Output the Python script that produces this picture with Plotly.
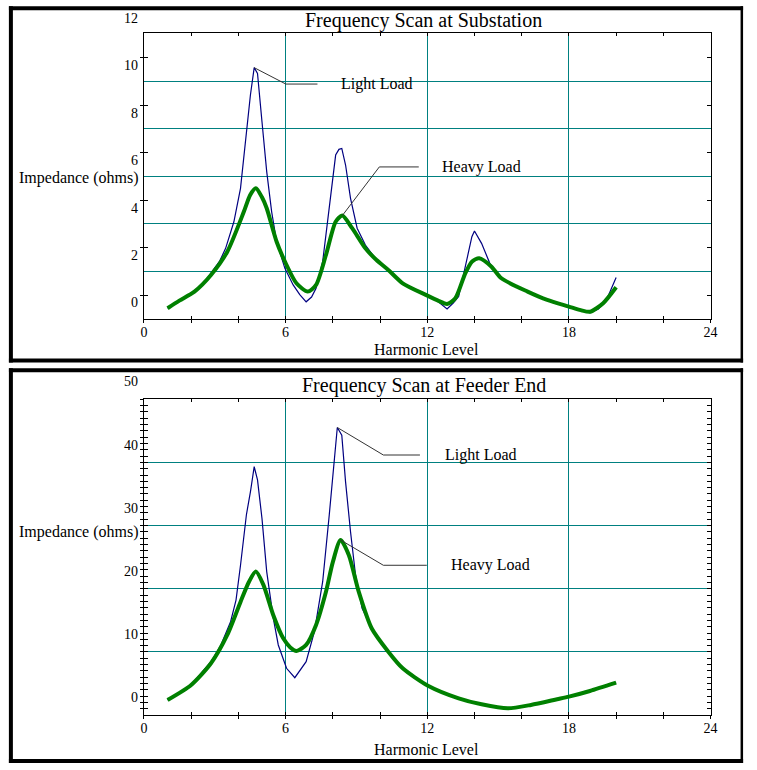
import numpy as np
import plotly.graph_objects as go

# ---- data ----
# Top: Frequency Scan at Substation
harm_sub_light = [1.0, 1.5, 2.0, 2.5, 2.84, 3.2, 3.46, 3.81, 4.09, 4.30, 4.51, 4.67, 4.81,
                  5.0, 5.2, 5.41, 5.62, 5.97, 6.32, 6.6, 6.87, 7.1, 7.29, 7.57, 7.85, 8.12,
                  8.26, 8.38, 8.54, 8.75, 9.03, 9.38, 9.8, 10.35, 10.96, 11.5, 11.94, 12.4,
                  12.84, 13.1, 13.33, 13.61, 13.89, 14.0, 14.3, 14.65, 15.14, 15.7, 16.25,
                  17.08, 18.0, 18.5, 18.89, 19.25, 19.59, 20.0]
z_sub_light = [-0.22, 0.10, 0.40, 0.80, 1.25, 1.75, 2.30, 3.42, 4.83, 6.79, 8.76, 9.91, 9.67,
               7.63, 5.53, 3.84, 2.58, 1.46, 0.76, 0.35, 0.05, 0.25, 0.62, 1.74, 4.13, 6.23,
               6.47, 6.51, 5.81, 4.41, 3.15, 2.44, 1.88, 1.39, 0.83, 0.58, 0.34, 0.10,
               -0.25, 0.0, 0.27, 1.53, 2.79, 3.03, 2.51, 1.67, 1.04, 0.75, 0.48,
               0.13, -0.15, -0.30, -0.42, -0.25, 0.13, 1.07]

harm_sub_heavy = [1.0, 1.5, 2.14, 2.84, 3.53, 4.23, 4.5, 4.74, 5.0, 5.2, 5.62, 6.04, 6.46,
                  6.94, 7.29, 7.71, 8.12, 8.4, 8.82, 9.38, 9.85, 10.35, 10.96, 11.94, 12.5,
                  12.84, 13.19, 13.61, 13.9, 14.2, 14.72, 15.14, 16.25, 17.08, 18.0, 18.5,
                  18.89, 19.45, 20.0]
z_sub_heavy = [-0.22, 0.10, 0.48, 1.18, 2.16, 3.84, 4.55, 4.83, 4.45, 3.99, 2.58, 1.60, 0.83,
               0.48, 0.76, 2.02, 3.42, 3.68, 3.15, 2.30, 1.81, 1.39, 0.83, 0.34, 0.08,
               -0.04, 0.20, 1.25, 1.75, 1.88, 1.53, 1.04, 0.48, 0.13, -0.15, -0.30,
               -0.37, -0.01, 0.66]

# Bottom: Frequency Scan at Feeder End
harm_fdr_light = [1.0, 2.0, 2.84, 3.26, 3.67, 3.9, 4.09, 4.34, 4.51, 4.67, 4.81, 5.0, 5.2,
                  5.48, 5.69, 6.04, 6.39, 6.87, 7.22, 7.57, 7.85, 8.06, 8.19, 8.38, 8.54,
                  8.75, 8.96, 9.24, 9.65, 10.35, 10.96, 12.03, 13.33, 14.3, 15.41, 16.39,
                  17.5, 18.0, 18.89, 20.0]
z_fdr_light = [-0.32, 2.06, 5.74, 8.39, 12.07, 15.5, 21.0, 29.0, 32.6, 36.6, 34.5, 28.4, 20.0,
               12.6, 8.39, 4.7, 3.21, 5.74, 10.5, 18.4, 29.0, 37.9, 42.8, 41.6, 34.2,
               26.3, 19.5, 14.2, 11.0, 7.33, 4.7, 1.95, -0.05, -1.0, -1.63, -1.1,
               -0.2, 0.21, 1.11, 2.42]

harm_fdr_heavy = [1.0, 2.0, 2.84, 3.53, 4.09, 4.45, 4.74, 5.06, 5.48, 5.9, 6.2, 6.46, 6.87,
                  7.29, 7.71, 8.0, 8.33, 8.68, 9.1, 9.65, 10.35, 10.96, 12.03, 13.33, 14.3,
                  15.41, 16.39, 17.5, 18.0, 18.89, 20.0]
z_fdr_heavy = [-0.32, 2.06, 5.49, 9.97, 15.2, 18.4, 20.0, 17.9, 13.1, 9.44, 8.0, 7.44, 8.39,
               11.55, 16.8, 21.5, 25.0, 22.6, 16.8, 11.0, 7.33, 4.7, 1.95, -0.05, -1.0,
               -1.63, -1.1, -0.2, 0.21, 1.11, 2.42]

x_tick_vals = [0, 6, 12, 18, 24]
y_labels_sub = [0, 2, 4, 6, 8, 10, 12]
y_labels_fdr = [0, 10, 20, 30, 40, 50]

# ---- page geometry (pixels -> paper) ----
W, H = 757, 770


def px(x):
    return x / W


def py(y):
    return 1 - y / H


FONT = "Liberation Serif, Times New Roman, serif"
GRID = "#008080"
NAVY = "#000080"
GREEN = "#008000"

x_dom = [px(142), px(717)]
top_dom = [py(319), py(33)]
bot_dom = [py(715), py(399)]

# the gridlines / tick marks sit a little off the printed labels in the original
sub_range = [-0.674, 11.37]
sub_ticks = list(np.arange(0, 11, 2) + 0.33)
sub_grid = list(np.arange(1, 10, 2) + 0.33)
fdr_range = [-2.69, 47.31]
fdr_ticks = list(np.arange(-2, 48) + 0.28)
fdr_grid = list(np.arange(7, 38, 10) + 0.28)

minor_x = [v for v in range(0, 25, 2) if v % 6 != 0]
all_x = list(range(0, 25, 2))
x_text = [str(v) if v % 6 == 0 else "" for v in all_x]

fig = go.Figure()

# light load (thin navy) under heavy load (thick green)
fig.add_trace(go.Scatter(x=harm_sub_light, y=z_sub_light, mode="lines",
                         line=dict(color=NAVY, width=1.2), xaxis="x", yaxis="y"))
fig.add_trace(go.Scatter(x=harm_sub_heavy, y=z_sub_heavy, mode="lines",
                         line=dict(color=GREEN, width=4, shape="spline", smoothing=0.7),
                         xaxis="x", yaxis="y"))
fig.add_trace(go.Scatter(x=harm_fdr_light, y=z_fdr_light, mode="lines",
                         line=dict(color=NAVY, width=1.2), xaxis="x2", yaxis="y2"))
fig.add_trace(go.Scatter(x=harm_fdr_heavy, y=z_fdr_heavy, mode="lines",
                         line=dict(color=GREEN, width=4, shape="spline", smoothing=0.7),
                         xaxis="x2", yaxis="y2"))
# empty traces so the overlay axes (outer tick halves) get drawn
fig.add_trace(go.Scatter(x=[None], y=[None], xaxis="x3", yaxis="y3"))
fig.add_trace(go.Scatter(x=[None], y=[None], xaxis="x4", yaxis="y4"))


def main_x(anchor):
    return dict(domain=x_dom, anchor=anchor, range=[0, 24], tickmode="array",
                tickvals=x_tick_vals, showticklabels=False, ticks="inside", ticklen=3,
                tickcolor="black", showgrid=True, gridcolor=GRID, gridwidth=1,
                zeroline=False, showline=True, linecolor="black", linewidth=1,
                mirror="ticks",
                minor=dict(tickmode="array", tickvals=minor_x, ticks="inside",
                           ticklen=3, tickcolor="black", showgrid=False))


def outer_x(over, anchor):
    return dict(overlaying=over, anchor=anchor, range=[0, 24], tickmode="array",
                tickvals=all_x, ticktext=x_text, ticks="outside", ticklen=3,
                tickcolor="black", showgrid=False, zeroline=False, showline=False,
                ticklabelstandoff=-3,
                tickfont=dict(family=FONT, size=14, color="black"))


def main_y(dom, anchor, rng, grid, ticks, grid_ticks):
    return dict(domain=dom, anchor=anchor, range=rng, tickmode="array", tickvals=grid,
                showticklabels=False, ticks="inside" if grid_ticks else "", ticklen=4,
                tickcolor="black", showgrid=True, gridcolor=GRID, gridwidth=1,
                zeroline=False, showline=True, linecolor="black", linewidth=1,
                mirror="ticks",
                minor=dict(tickmode="array", tickvals=ticks, ticks="inside", ticklen=4,
                           tickcolor="black", showgrid=False))


def outer_y(over, anchor, rng, ticks):
    return dict(overlaying=over, anchor=anchor, range=rng, tickmode="array",
                tickvals=ticks, showticklabels=False, ticks="outside", ticklen=3,
                tickcolor="black", showgrid=False, zeroline=False, showline=False)


fig.update_layout(
    xaxis=main_x("y"),
    yaxis=main_y(top_dom, "x", sub_range, sub_grid, sub_ticks, False),
    xaxis2=main_x("y2"),
    yaxis2=main_y(bot_dom, "x2", fdr_range, fdr_grid, fdr_ticks, True),
    xaxis3=outer_x("x", "y3"),
    yaxis3=outer_y("y", "x3", sub_range, sub_ticks),
    xaxis4=outer_x("x2", "y4"),
    yaxis4=outer_y("y2", "x4", fdr_range, fdr_ticks),
)

ann = []
# y tick labels printed beside the axis ("12" and "50" sit above the plot frame)
for vals, rng, ref in [(y_labels_sub, sub_range, "y domain"), (y_labels_fdr, fdr_range, "y2 domain")]:
    for v in vals:
        ann.append(dict(x=px(138), xref="paper", y=(v - rng[0]) / (rng[1] - rng[0]), yref=ref,
                        text=str(v), showarrow=False, xanchor="right", yanchor="middle",
                        font=dict(size=14)))

for top, title, ylab, xlab in [(True, "Frequency Scan at Substation", 178, 349),
                               (False, "Frequency Scan at Feeder End", 532, 749)]:
    ty = 21 if top else 385
    ann.append(dict(x=px(426), y=py(ty), xref="paper", yref="paper", text=title,
                    showarrow=False, xanchor="center", yanchor="middle",
                    font=dict(size=20)))
    ann.append(dict(x=px(139), y=py(ylab), xref="paper", yref="paper",
                    text="Impedance (ohms)", showarrow=False, xanchor="right",
                    yanchor="middle", font=dict(size=16)))
    ann.append(dict(x=px(429), y=py(xlab), xref="paper", yref="paper",
                    text="Harmonic Level", showarrow=False, xanchor="center",
                    yanchor="middle", font=dict(size=16)))


def peak(xs, ys, lo, hi):
    best = None
    for x, y in zip(xs, ys):
        if lo <= x <= hi and (best is None or y > best[1]):
            best = (x, y)
    return best


# callouts: (series, peak window, elbow, end of leader, text x, label, axes)
callouts = [
    (harm_sub_light, z_sub_light, (3, 6), (6.01, 9.22), 7.35, 8.25, "Light Load", "x", "y"),
    (harm_sub_heavy, z_sub_heavy, (7, 10), (9.97, 5.73), 11.64, 12.55, "Heavy Load", "x", "y"),
    (harm_fdr_light, z_fdr_light, (7, 10), (10.14, 38.45), 11.69, 12.65, "Light Load", "x2", "y2"),
    (harm_fdr_heavy, z_fdr_heavy, (7, 10), (10.14, 21.0), 11.98, 12.9, "Heavy Load", "x2", "y2"),
]
shapes = []
for xs, ys, win, elbow, xend, tx, label, xr, yr in callouts:
    x0, y0 = peak(xs, ys, *win)
    shapes.append(dict(type="path", xref=xr, yref=yr,
                       path=f"M {x0},{y0} L {elbow[0]},{elbow[1]} L {xend},{elbow[1]}",
                       line=dict(color="#333333", width=1)))
    ann.append(dict(x=tx, y=elbow[1], xref=xr, yref=yr, text=label, showarrow=False,
                    xanchor="left", yanchor="middle", font=dict(size=16)))

# heavy black frames round each panel
for top_y, bot_y in [(8.3, 360.5), (370.3, 761)]:
    shapes.append(dict(type="line", xref="paper", yref="paper", x0=px(5), x1=px(750),
                       y0=py(top_y), y1=py(top_y), line=dict(color="black", width=4)))
    shapes.append(dict(type="line", xref="paper", yref="paper", x0=px(5), x1=px(750),
                       y0=py(bot_y), y1=py(bot_y), line=dict(color="black", width=4)))
    shapes.append(dict(type="line", xref="paper", yref="paper", x0=px(7), x1=px(7),
                       y0=py(top_y - 2), y1=py(bot_y + 2), line=dict(color="black", width=4)))
    shapes.append(dict(type="line", xref="paper", yref="paper", x0=px(748.7), x1=px(748.7),
                       y0=py(top_y - 2), y1=py(bot_y + 2), line=dict(color="black", width=2.5)))

fig.update_layout(
    margin=dict(l=0, r=0, t=0, b=0),
    paper_bgcolor="white", plot_bgcolor="white",
    showlegend=False,
    font=dict(family=FONT, color="black"),
    annotations=ann,
    shapes=shapes,
)

# fill the browser window exactly (no body margin, no scrollbars)
fit = ("document.documentElement.style.margin='0px';"
       "document.documentElement.style.overflow='hidden';"
       "document.body.style.margin='0px';document.body.style.overflow='hidden';"
       "var gd=document.getElementById('{plot_id}');"
       "Plotly.relayout(gd,{width:window.innerWidth,height:window.innerHeight});")
fig.write_html("out.html", default_width="100vw", default_height="100vh",
               config={"displayModeBar": False}, post_script=fit)
